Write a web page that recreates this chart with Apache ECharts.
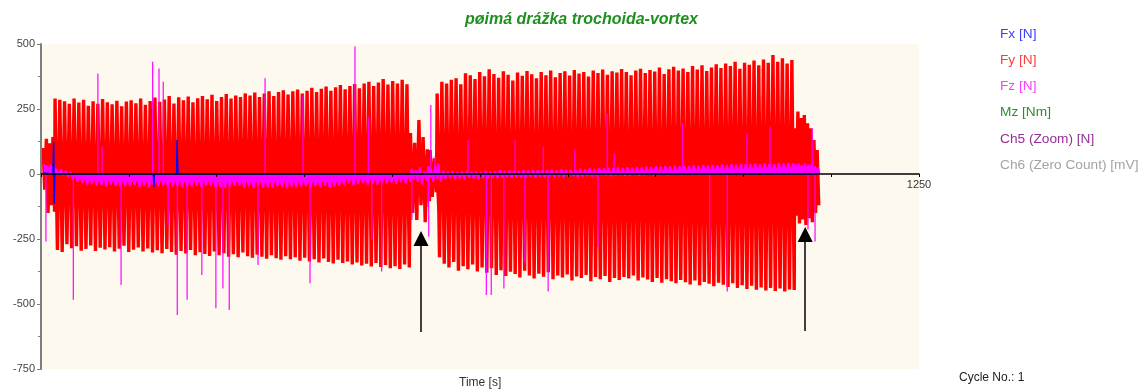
<!DOCTYPE html>
<html>
<head>
<meta charset="utf-8">
<script src="https://cdn.jsdelivr.net/npm/echarts@6/dist/echarts.min.js"></script>
<style>
html,body{margin:0;padding:0;background:#ffffff;}
#chart{width:1148px;height:392px;}
</style>
</head>
<body>
<div id="chart"></div>
<script>
// ---- data ----
const legendNames = ['Fx [N]', 'Fy [N]', 'Fz [N]', 'Mz [Nm]', 'Ch5 (Zoom) [N]', 'Ch6 (Zero Count) [mV]'];
const yTicks = [-750, -500, -250, 0, 250, 500];
const xMaxLabel = 1250;

// time span of each run of cycles [s]
const segStart = [3, 20, 526, 554, 564, 1073];
const segEnd   = [17, 521, 550, 560, 1069, 1105];

// Fy peaks per cycle
const fyTopPre = [100, 135, 118, 142];
const fyBotPre = [-60, -150, -120, -145];
const fyTop1 = [290, 285, 280, 270, 290, 275, 285, 262, 280, 270, 288,
  276, 268, 282, 260, 279, 284, 272, 290, 266, 281,
  294, 278, 286, 300, 271, 295, 284, 298, 276, 291,
  300, 287, 305, 281, 296, 308, 290, 302, 296, 310,
  302, 313, 296, 310, 318, 300, 315, 322, 306, 318,
  325, 310, 320, 332, 315, 328, 336, 320, 334, 342,
  326, 338, 346, 330, 348, 355, 338, 352, 365, 344,
  358, 348, 362, 345];
const fyBot1 = [-292, -300, -270, -285, -278, -295, -288, -275, -296, -284, -290,
  -282, -298, -287, -276, -300, -291, -283, -298, -286, -302,
  -293, -305, -288, -300, -310, -296, -306, -292, -312, -301,
  -308, -315, -298, -312, -305, -318, -309, -320, -302, -316,
  -322, -310, -318, -326, -312, -324, -330, -316, -328, -320,
  -334, -322, -336, -328, -340, -325, -338, -344, -330, -342,
  -336, -348, -340, -352, -345, -356, -342, -358, -350, -362,
  -355, -365, -348, -360];
const fyTopLow1 = [158, 120, 208, 142, 95];
const fyBotLow1 = [-150, -177, -120, -185, -105];
const fyTopGap = [92, 60];
const fyBotGap = [-88, -70];
const fyTop2 = [310, 355, 348, 362, 368, 345, 387, 380, 365, 392,
  376, 403, 385, 370, 395, 382, 360, 390, 378, 396,
  384, 368, 392, 380, 398, 372, 388, 395, 379, 400,
  386, 392, 375, 398, 388, 402, 382, 395, 390, 404,
  392, 380, 398, 405, 388, 400, 394, 410, 385, 403,
  412, 398, 406, 392, 415, 402, 418, 396, 410, 422,
  408, 425, 415, 432, 405, 428, 420, 436, 418, 440,
  428, 458, 432, 445, 425, 438];
const fyBot2 = [-320, -345, -360, -338, -372, -355, -366, -348, -375, -360,
  -380, -362, -388, -370, -392, -376, -385, -398, -372, -390,
  -402, -384, -395, -378, -405, -390, -398, -386, -410, -394,
  -400, -388, -412, -396, -405, -392, -415, -400, -408, -396,
  -402, -390, -410, -398, -406, -415, -400, -418, -405, -412,
  -420, -408, -416, -425, -410, -428, -415, -422, -432, -418,
  -426, -435, -420, -438, -428, -442, -430, -445, -436, -448,
  -438, -450, -440, -452, -444, -446];
const fyTopLow2 = [176, 240, 215, 227, 195, 176, 131, 92];
const fyBotLow2 = [-160, -190, -175, -196, -170, -185, -150, -120];

// Fy dense core (where the trace fills solid): time, upper and lower edge
const fyCoreT   = [18, 20, 200, 300, 400, 521, 523, 550, 553, 562, 564, 700, 850, 1000, 1069, 1071, 1100, 1105];
const fyCoreTop = [0, 100, 110, 118, 125, 132, 70, 70, 20, 20, 130, 140, 148, 155, 160, 90, 80, 0];
const fyCoreBot = [0, -110, -118, -125, -132, -140, -70, -70, -20, -20, -140, -150, -158, -165, -170, -90, -80, 0];

// Fz noise band per cycle (upper / lower edge)
const fzHiPre = [38, 32, 35, 28];
const fzLoPre = [22, 15, 18, 12];
const fzHi1 = [20, 18, 12, 8, 2, -2, -5, -6, -3, -3,
  -6, -8, -6, -10, -7, -7, -9, -5, -8, -11,
  -6, -8, -5, -9, -9, -7, -10, -8, -7, -6,
  -9, -8, -11, -7, -10, -8, -8, -12, -9, -7,
  -9, -10, -8, -11, -6, -9, -12, -8, -10, -7,
  -11, -9, -8, -12, -8, -10, -7, -9, -11, -8,
  -4, -2, -5, -3, -3, -1, -2, -4, -2, 0,
  -3, 1, -2, 2, 0];
const fzLo1 = [0, -5, -10, -22, -30, -35, -40, -38, -45, -42,
  -48, -40, -44, -50, -46, -46, -42, -49, -45, -52,
  -44, -47, -41, -50, -48, -46, -50, -48, -47, -45,
  -50, -44, -46, -52, -49, -52, -48, -45, -44, -51,
  -47, -53, -45, -51, -49, -52, -46, -50, -54, -48,
  -51, -47, -46, -53, -46, -50, -44, -52, -48, -45,
  -40, -36, -42, -38, -35, -40, -37, -40, -34, -37,
  -33, -38, -31, -36, -30];
const fzHiLow1 = [20, 15, 25, 10, 30];
const fzLoLow1 = [-20, -30, -40, -25, -15];
const fzHiGap = [20, 30];
const fzLoGap = [-30, -20];
const fzHi2 = [40, 12, 8, 10, 6, 9, 11, 7, 10, 8,
  12, 9, 10, 14, 11, 13, 12, 12, 15, 13,
  16, 14, 15, 15, 17, 14, 18, 16, 15, 16,
  20, 18, 22, 19, 23, 21, 24, 22, 25, 23,
  26, 24, 27, 25, 29, 27, 30, 28, 31, 29,
  32, 30, 33, 31, 34, 32, 35, 33, 36, 34,
  37, 35, 38, 36, 39, 37, 38, 40, 37, 41,
  39, 38, 42, 40, 43, 41];
const fzLo2 = [-30, -18, -15, -20, -16, -19, -14, -17, -20, -15,
  -15, -13, -16, -13, -12, -15, -12, -14, -11, -10,
  -13, -10, -12, -9, -11, -9, -12, -10, -8, -11,
  -9, -7, -10, -8, -4, -6, -9, -7, -5, -8,
  -6, -4, -7, -5, -3, -6, -4, -2, -5, -3,
  -1, -4, -2, 0, -3, -1, 1, -2, 2, 0,
  2, 3, 1, 3, 0, 2, 4, 1, 3, 5,
  2, 4, 6, 3, 5, 7];
const fzHiLow2 = [38, 40, 35, 42, 36, 40, 30, 25];
const fzLoLow2 = [8, 10, 5, 6, 9, 4, 8, 0];

// Fz single spikes: time [s] and peak value [N]
const fzSpikeT = [7, 46, 81, 87, 114, 159, 168, 174, 181, 194, 208, 229, 249, 259, 268,
  309, 319, 373, 383, 447, 466, 471, 485, 528, 551, 552, 555, 561, 608, 634, 641, 659,
  675, 689, 715, 722, 760, 793, 806, 816, 913, 952, 977, 1005, 1038, 1092, 1098, 1102];
const fzSpikeV = [-260, -484, 387, 105, -427, 432, 406, 355, -196, -542, -484, -388, -516, -440, -523,
  -350, 368, 304, -420, 490, 220, -254, -375, -177, -126, -241, 265, 67, 131, -465, -465, -440,
  131, -341, 105, -452, 92, -280, 233, 80, 195, -341, -452, 156, 182, -213, 176, -260];

// Fx, Mz, Ch5, Ch6 (mostly at zero)
const fxT = [3, 17, 18, 18.8, 19.6, 160, 160.7, 161.4, 193, 193.7, 194.4, 195, 1105];
const fxV = [4, 0, 124, -113, 0, 0, -50, 0, 0, 131, 45, 0, 0];
const mzT = [3, 1105];
const mzV = [-4, -4];
const ch5T = [3, 1105];
const ch5V = [0, 0];
const ch6T = [3, 1105];
const ch6V = [0, 0];

// annotation arrows: [time, tail value, head value]
const arrows = [[541, -608, -248], [1088, -604, -233]];

// ---- build series data ----
const fyTops = [fyTopPre, fyTop1, fyTopLow1, fyTopGap, fyTop2, fyTopLow2];
const fyBots = [fyBotPre, fyBot1, fyBotLow1, fyBotGap, fyBot2, fyBotLow2];
const fzHis = [fzHiPre, fzHi1, fzHiLow1, fzHiGap, fzHi2, fzHiLow2];
const fzLos = [fzLoPre, fzLo1, fzLoLow1, fzLoGap, fzLo2, fzLoLow2];

const fyData = [], fzData = [];
for (let s = 0; s < segStart.length; s++) {
  const tops = fyTops[s], bots = fyBots[s], his = fzHis[s], los = fzLos[s];
  const n = tops.length;
  const dt = (segEnd[s] - segStart[s]) / (n - 1);
  for (let i = 0; i < n; i++) {
    const t = segStart[s] + i * dt;
    fyData.push([t, tops[i]]);
    fyData.push([t + dt / 2, bots[i]]);
    fzData.push([t + dt * 0.25, his[i]]);
    fzData.push([t + dt * 0.75, los[i]]);
  }
}
const fzSpikeData = [];
fzSpikeT.forEach((t, i) => { fzSpikeData.push([t, 0], [t, fzSpikeV[i]], [t, '-']); });
const pairs = (t, v) => t.map((x, i) => [x, v[i]]);

const FONT = 'Liberation Sans, Arial, sans-serif';
const legendColors = ['#3c3cff', '#ff3c3c', '#ff3cff', '#2e8b2e', '#952f95', '#a3a3a3'];
const lineBase = {type: 'line', showSymbol: false, symbol: 'none', sampling: null, connectNulls: false};

const chart = echarts.init(document.getElementById('chart'), null, {renderer: 'canvas'});
chart.setOption({
  animation: false,
  backgroundColor: '#ffffff',
  title: {
    text: 'pøimá drážka trochoida-vortex',
    left: 460, top: 7,
    textStyle: {color: '#1f8f1f', fontSize: 16, fontStyle: 'italic', fontWeight: 'bold', fontFamily: FONT}
  },
  legend: {
    orient: 'vertical', left: 990, top: 22,
    itemWidth: 0, itemHeight: 0, itemGap: 12.2,
    selectedMode: false,
    icon: 'rect',
    textStyle: {fontSize: 13.7, fontFamily: FONT},
    data: legendNames.map((n, i) => ({name: n, textStyle: {color: legendColors[i]}}))
  },
  grid: {left: 41, right: 229, top: 44, bottom: 23, show: true, backgroundColor: '#fdf9ee', borderWidth: 0},
  xAxis: {
    type: 'value', min: 0, max: 1250, interval: 125, z: 10, position: 'bottom', offset: -195,
    axisLine: {onZero: false, lineStyle: {color: '#000000', width: 1.5}},
    axisTick: {show: true, length: 3, lineStyle: {color: '#000000'}},
    axisLabel: {color: '#333333', fontSize: 11, fontFamily: FONT, margin: 5,
      formatter: v => (v === xMaxLabel ? String(v) : '')},
    splitLine: {show: false}
  },
  yAxis: {
    type: 'value', min: yTicks[0], max: yTicks[yTicks.length - 1], interval: 250, z: 10,
    axisLine: {show: true, lineStyle: {color: '#7f7f7f', width: 2}},
    axisTick: {show: true, length: 4, lineStyle: {color: '#7f7f7f'}},
    minorTick: {show: true, splitNumber: 2, length: 3, lineStyle: {color: '#7f7f7f'}},
    axisLabel: {color: '#444444', fontSize: 11, fontFamily: FONT, margin: 6},
    splitLine: {show: false}
  },
  graphic: [
    {type: 'text', left: 459, top: 377, style: {text: 'Time [s]', fill: '#333333', font: '12px ' + FONT}},
    {type: 'text', left: 959, top: 372, style: {text: 'Cycle No.: 1', fill: '#222222', font: '12px ' + FONT}}
  ],
  series: [
    Object.assign({}, lineBase, {name: legendNames[0], z: 5, data: pairs(fxT, fxV),
      lineStyle: {color: '#0000ff', width: 1.5}, itemStyle: {color: '#0000ff'}}),
    Object.assign({}, lineBase, {name: legendNames[1], z: 2, data: pairs(fyCoreT, fyCoreTop),
      lineStyle: {width: 0, color: '#ff0000'}, areaStyle: {color: '#ff0000', opacity: 1}, itemStyle: {color: '#ff0000'}}),
    Object.assign({}, lineBase, {name: legendNames[1], z: 2, data: pairs(fyCoreT, fyCoreBot),
      lineStyle: {width: 0, color: '#ff0000'}, areaStyle: {color: '#ff0000', opacity: 1}, itemStyle: {color: '#ff0000'}}),
    Object.assign({}, lineBase, {name: legendNames[1], z: 2, data: fyData,
      lineStyle: {color: '#ff0000', width: 3.4}, itemStyle: {color: '#ff0000'},
      markLine: {
        silent: true, symbol: ['none', 'triangle'], symbolSize: [15, 15], label: {show: false},
        lineStyle: {color: '#000000', width: 1.5, type: 'solid'},
        data: arrows.map(a => [{coord: [a[0], a[1]]}, {coord: [a[0], a[2]]}])
      }}),
    Object.assign({}, lineBase, {name: legendNames[2], z: 3, data: fzData,
      lineStyle: {color: '#ff00ff', width: 2}, areaStyle: {color: '#ff00ff', opacity: 1}, itemStyle: {color: '#ff00ff'}}),
    Object.assign({}, lineBase, {name: legendNames[2], z: 4, data: fzSpikeData,
      lineStyle: {color: '#ff00ff', width: 1.2}, itemStyle: {color: '#ff00ff'}}),
    Object.assign({}, lineBase, {name: legendNames[3], z: 1, data: pairs(mzT, mzV),
      lineStyle: {color: '#008000', width: 1.5}, itemStyle: {color: '#008000'}}),
    Object.assign({}, lineBase, {name: legendNames[4], z: 1, data: pairs(ch5T, ch5V),
      lineStyle: {color: '#800080', width: 1}, itemStyle: {color: '#800080'}}),
    Object.assign({}, lineBase, {name: legendNames[5], z: 1, data: pairs(ch6T, ch6V),
      lineStyle: {color: '#a0a0a0', width: 1}, itemStyle: {color: '#a0a0a0'}})
  ]
});
</script>
</body>
</html>
